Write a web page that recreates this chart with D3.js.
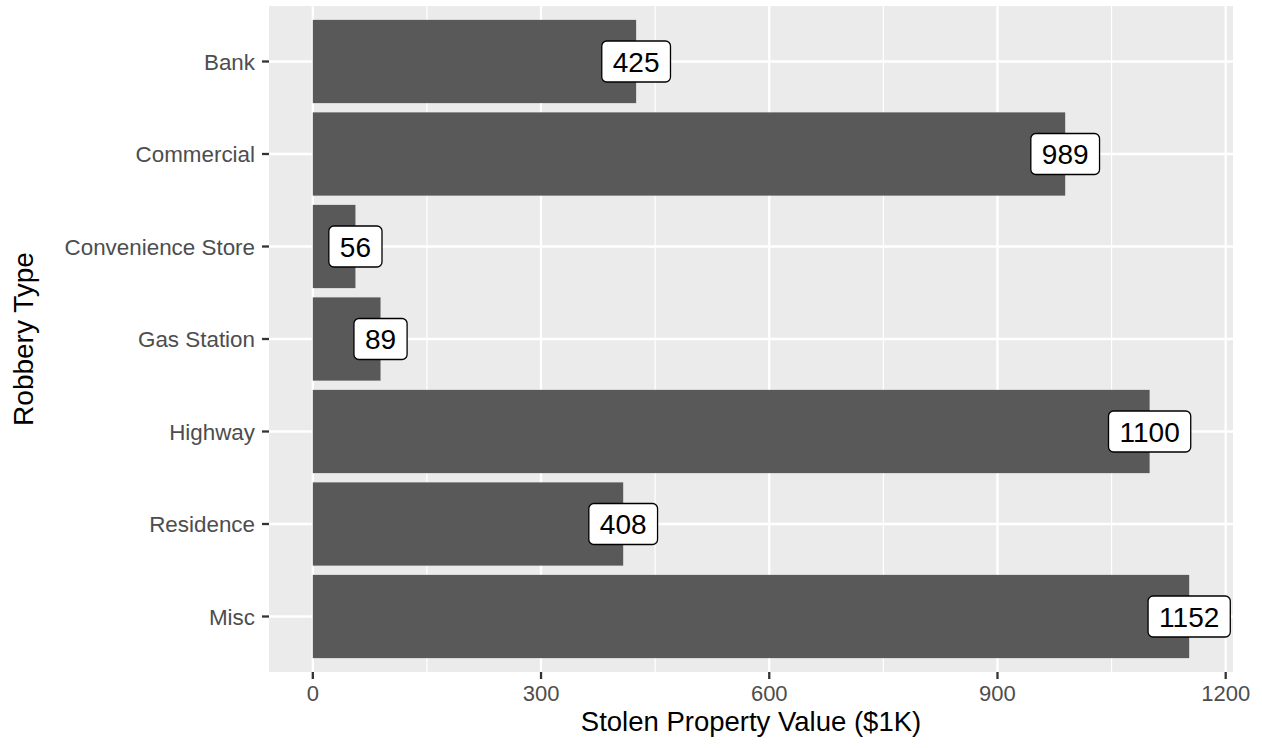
<!DOCTYPE html>
<html><head><meta charset="utf-8">
<script src="https://cdn.jsdelivr.net/npm/d3@7"></script>
<style>body{margin:0;background:#fff;} text{font-family:"Liberation Sans",Arial,sans-serif;}</style>
</head><body><svg id="c" width="1262" height="748"></svg>
<script>
const categories = ["Bank","Commercial","Convenience Store","Gas Station","Highway","Residence","Misc"];
const values = [425, 989, 56, 89, 1100, 408, 1152];
const xTicks = [0, 300, 600, 900, 1200];
const xMinor = [150, 450, 750, 1050];
const xTitle = "Stolen Property Value ($1K)";
const yTitle = "Robbery Type";

const svg = d3.select("#c");
const L = 269, R = 1233, T = 6, B = 672;
const x = d3.scaleLinear().domain([-57.6, 1209.6]).range([L, R]);
const step = (B - T) / 7.2;
const y = d3.scalePoint().domain(categories).range([T + 0.6*step, B - 0.6*step]);
const bw = 0.9 * step;

svg.append("rect").attr("x", L).attr("y", T).attr("width", R-L).attr("height", B-T).attr("fill", "#EBEBEB");
svg.selectAll(".gmin").data(xMinor).join("line").attr("x1", d=>x(d)).attr("x2", d=>x(d)).attr("y1", T).attr("y2", B)
  .attr("stroke", "#fff").attr("stroke-width", 1.2);
svg.selectAll(".gmaj").data(xTicks).join("line").attr("x1", d=>x(d)).attr("x2", d=>x(d)).attr("y1", T).attr("y2", B)
  .attr("stroke", "#fff").attr("stroke-width", 2.3);
svg.selectAll(".gy").data(categories).join("line").attr("x1", L).attr("x2", R).attr("y1", d=>y(d)).attr("y2", d=>y(d))
  .attr("stroke", "#fff").attr("stroke-width", 2.3);

svg.selectAll(".bar").data(categories).join("rect")
  .attr("x", x(0)).attr("y", d=>y(d)-bw/2).attr("width", (d,i)=>x(values[i])-x(0)).attr("height", bw).attr("fill", "#595959");

// labels
const lg = svg.selectAll(".lab").data(categories).join("g").attr("transform", (d,i)=>`translate(${x(values[i])},${y(d)})`);
lg.each(function(d,i){
  const g = d3.select(this);
  const t = g.append("text").text(values[i]).attr("text-anchor","middle").attr("dy","0.36em").attr("font-size", 28).attr("fill","#000");
  const w = t.node().getComputedTextLength();
  g.insert("rect","text").attr("x", -w/2-11).attr("y", -20.5).attr("width", w+22).attr("height", 41).attr("rx", 5)
    .attr("fill","#fff").attr("stroke","#000").attr("stroke-width",1.3);
});

// axes
svg.selectAll(".xt").data(xTicks).join("line").attr("x1", d=>x(d)).attr("x2", d=>x(d)).attr("y1", B).attr("y2", B+7)
  .attr("stroke", "#333").attr("stroke-width", 2.3);
svg.selectAll(".xl").data(xTicks).join("text").attr("x", d=>x(d)).attr("y", 700.5).attr("text-anchor","middle")
  .attr("font-size", 22).attr("fill", "#4D4D4D").text(d=>d);
svg.selectAll(".yt").data(categories).join("line").attr("x1", L-7).attr("x2", L).attr("y1", d=>y(d)).attr("y2", d=>y(d))
  .attr("stroke", "#333").attr("stroke-width", 2.3);
svg.selectAll(".yl").data(categories).join("text").attr("x", 255).attr("y", d=>y(d)).attr("dy","0.36em").attr("text-anchor","end")
  .attr("font-size", 22.4).attr("fill", "#4D4D4D").text(d=>d);

svg.append("text").attr("x", (L+R)/2).attr("y", 730.5).attr("text-anchor","middle").attr("font-size", 27.5).attr("fill","#000").text(xTitle);
svg.append("text").attr("transform", `translate(33,${(T+B)/2}) rotate(-90)`).attr("text-anchor","middle").attr("font-size", 28).attr("fill","#000").text(yTitle);
</script></body></html>
